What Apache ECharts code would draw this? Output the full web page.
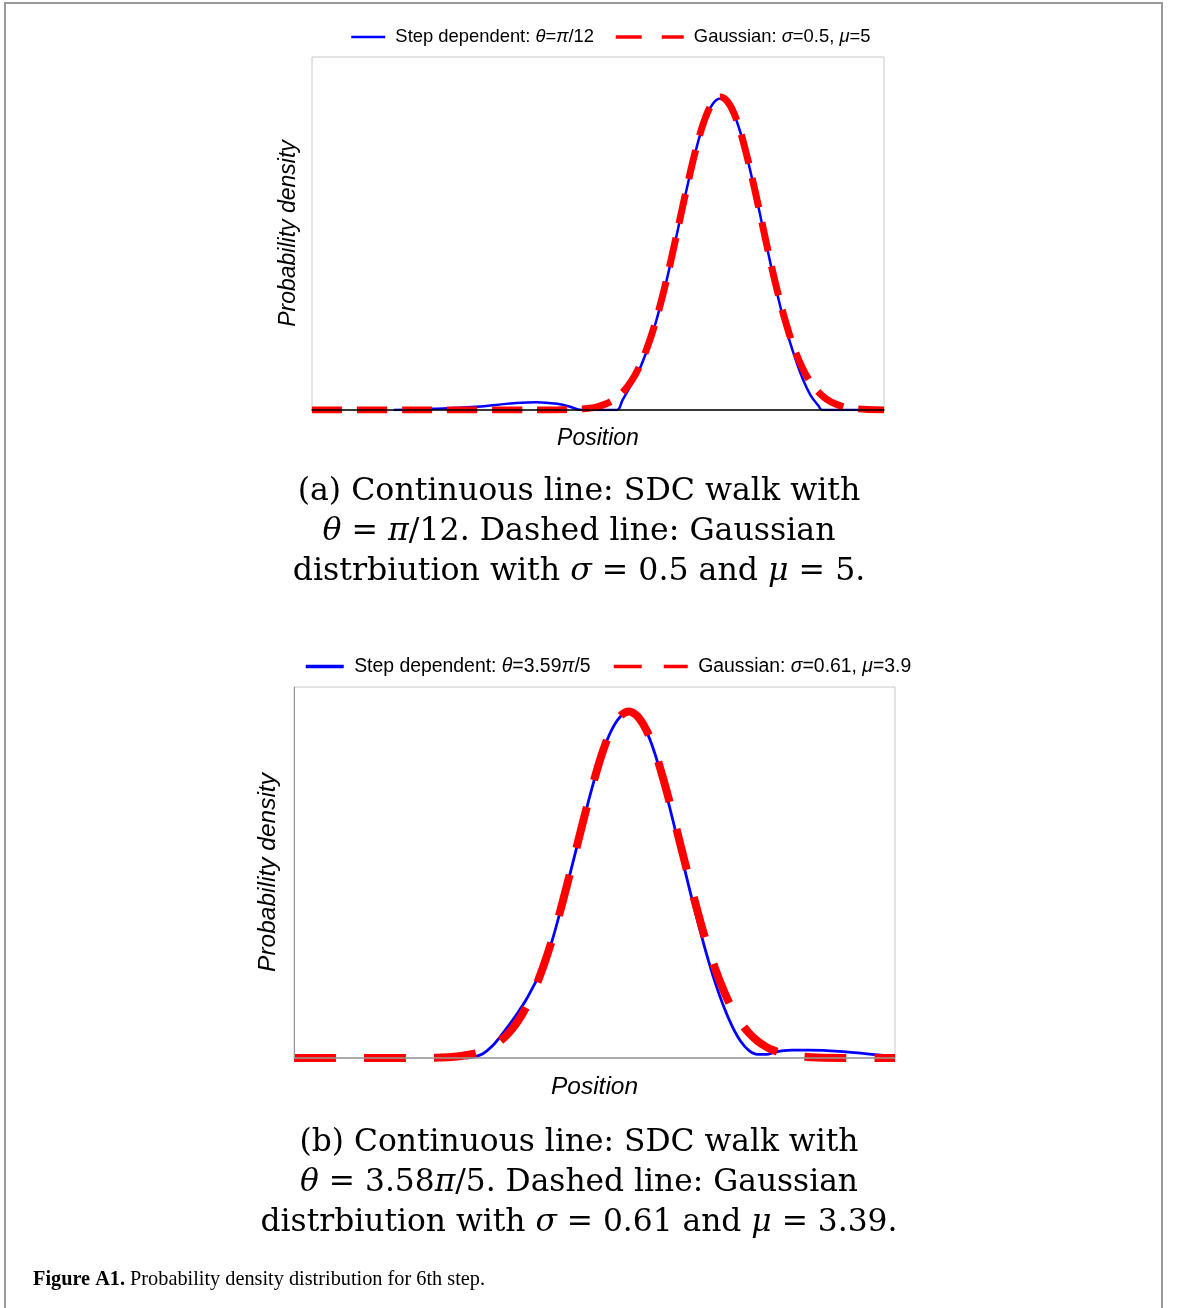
<!DOCTYPE html>
<html><head><meta charset="utf-8">
<script src="https://cdn.jsdelivr.net/npm/echarts@6/dist/echarts.min.js"></script>
<style>html,body{margin:0;padding:0;background:#fff}#c{width:1179px;height:1308px}</style>
</head><body><div id="c"></div><script>
// ---------- data ----------
// Panel (a)
const topBlueName = 'Step dependent: θ=π/12';
const topRedName  = 'Gaussian: σ=0.5, μ=5';
const topBlueX = [1.0,1.5,2.0,2.25,2.5,2.75,3.0,3.15,3.3,3.5,3.73,3.8,3.9,4.0,4.1,4.2,4.3,4.4,4.5,4.6,4.7,4.8,4.9,5.0,5.1,5.2,5.3,5.4,5.5,5.6,5.7,5.8,5.9,6.0,6.1,6.2,6.24,6.5,7.0];
const topBlueY = [0,0.003,0.008,0.013,0.018,0.020,0.016,0.009,0,0,0,0.025,0.062,0.100,0.153,0.218,0.296,0.386,0.482,0.577,0.664,0.735,0.779,0.794,0.779,0.735,0.664,0.577,0.482,0.384,0.291,0.208,0.140,0.082,0.038,0.010,0,0,0];
const topRedX = [0,1,2,2.5,3.0,3.2,3.4,3.5,3.6,3.7,3.8,3.9,4.0,4.1,4.2,4.3,4.4,4.5,4.6,4.7,4.8,4.9,5.0,5.1,5.2,5.3,5.4,5.5,5.6,5.7,5.8,5.9,6.0,6.1,6.2,6.3,6.4,6.5,6.6,6.8,7.0];
const topRedY = [0,0,0,0,0.0003,0.0012,0.0048,0.0089,0.0158,0.0271,0.0448,0.0709,0.108,0.158,0.222,0.299,0.388,0.484,0.579,0.666,0.737,0.782,0.798,0.782,0.737,0.666,0.579,0.484,0.388,0.299,0.222,0.158,0.108,0.0709,0.0448,0.0271,0.0158,0.0089,0.0048,0.0012,0.0003];
// Panel (b)
const botBlueName = 'Step dependent: θ=3.59π/5';
const botRedName  = 'Gaussian: σ=0.61, μ=3.9';
const botBlueX = [2.0,2.1,2.2,2.3,2.4,2.5,2.6,2.7,2.8,2.9,3.0,3.1,3.2,3.3,3.4,3.5,3.6,3.7,3.8,3.9,4.0,4.1,4.2,4.3,4.4,4.5,4.6,4.7,4.8,4.9,5.0,5.1,5.2,5.3,5.4,5.5,5.6,5.7,5.8,6.0,6.2,6.4,6.6,6.8,7.0];
const botBlueY = [0,0.002,0.008,0.021,0.040,0.061,0.084,0.109,0.139,0.170,0.218,0.276,0.338,0.402,0.466,0.526,0.579,0.619,0.644,0.653,0.644,0.618,0.576,0.520,0.457,0.390,0.323,0.259,0.199,0.145,0.099,0.061,0.032,0.014,0.007,0.007,0.011,0.014,0.015,0.015,0.014,0.012,0.009,0.006,0.003];
const botRedX = [0,1.0,1.4,1.7,1.9,2.0,2.1,2.2,2.3,2.4,2.5,2.6,2.7,2.8,2.9,3.0,3.1,3.2,3.3,3.4,3.5,3.6,3.7,3.8,3.9,4.0,4.1,4.2,4.3,4.4,4.5,4.6,4.7,4.8,4.9,5.0,5.1,5.2,5.3,5.4,5.5,5.6,5.7,5.8,5.9,6.1,6.4,7.0];
const botRedY = [0,0,0.0002,0.001,0.003,0.0051,0.0084,0.0135,0.021,0.0318,0.047,0.0675,0.0944,0.129,0.171,0.220,0.277,0.339,0.403,0.467,0.527,0.580,0.620,0.645,0.654,0.645,0.620,0.580,0.527,0.467,0.403,0.339,0.277,0.220,0.171,0.129,0.0944,0.0675,0.047,0.0318,0.021,0.0135,0.0084,0.0051,0.003,0.001,0.0002,0];

const xTitle = 'Position';
const yTitle = 'Probability density';
const captionA = ['(a) Continuous line: SDC walk with', '{m|θ} = {m|π}/12. Dashed line: Gaussian', 'distrbiution with {m|σ} = 0.5 and {m|μ} = 5.'];
const captionB = ['(b) Continuous line: SDC walk with', '{m|θ} = 3.58{m|π}/5. Dashed line: Gaussian', 'distrbiution with {m|σ} = 0.61 and {m|μ} = 3.39.'];
const figCaptionBold = 'Figure A1.';
const figCaptionText = ' Probability density distribution for 6th step.';

// ---------- chart ----------
const pairs = (xs, ys) => xs.map((x, i) => [x, ys[i]]);
const greek = s => ' ' + s.replace(/([θπσμ])/g, '{g|$1}');
const SANS = 'Liberation Sans';
const SERIF = 'DejaVu Serif';

function legendItem(name, left, top, w, fs, lineStyle) {
  return {
    data: [name], left: left, top: top, padding: 0, itemWidth: w, itemHeight: 20,
    formatter: greek, lineStyle: lineStyle,
    itemStyle: { color: 'rgba(0,0,0,0)', borderWidth: 0, opacity: 0 },
    textStyle: { fontSize: fs, fontFamily: SANS, color: '#000',
      rich: { g: { fontSize: fs, fontFamily: SANS, fontStyle: 'italic', color: '#000' } } }
  };
}
function xAx(gi, lineColor, lw, fs, gap) {
  return { gridIndex: gi, type: 'value', min: 0, max: 7, z: 10,
    axisLabel: { show: false }, axisTick: { show: false }, splitLine: { show: false },
    axisLine: { show: true, lineStyle: { color: lineColor, width: lw } },
    name: xTitle, nameLocation: 'middle', nameGap: gap,
    nameTextStyle: { fontSize: fs, fontStyle: 'italic', fontFamily: SANS, color: '#000' } };
}
function yAx(gi, max, showLine, fs, gap) {
  return { gridIndex: gi, type: 'value', min: 0, max: max, z: 10,
    axisLabel: { show: false }, axisTick: { show: false }, splitLine: { show: false },
    axisLine: { show: showLine, lineStyle: { color: '#999', width: 1 } },
    name: yTitle, nameLocation: 'middle', nameGap: gap,
    nameTextStyle: { fontSize: fs, fontStyle: 'italic', fontFamily: SANS, color: '#000' } };
}
function capLines(lines, ys, fs) {
  return lines.map((t, i) => ({ type: 'text', x: 579, y: ys[i], silent: true,
    style: { text: t, fill: '#000', fontSize: fs, fontFamily: SERIF, align: 'center', verticalAlign: 'middle',
      rich: { m: { fontSize: fs, fontFamily: SERIF, fontStyle: 'italic', fill: '#000' } } } }));
}

const option = {
  animation: false,
  backgroundColor: '#fff',
  grid: [
    { left: 312, top: 57, width: 572, height: 353, show: true, borderColor: '#c8c8c8', borderWidth: 1 },
    { left: 294, top: 687, width: 601, height: 371, show: true, borderColor: '#c8c8c8', borderWidth: 1 }
  ],
  xAxis: [ xAx(0, '#000', 1.5, 23, 17), xAx(1, '#999', 1.5, 24.5, 17) ],
  yAxis: [ yAx(0, 0.9, false, 23, 12), yAx(1, 0.7, true, 24.5, 13) ],
  legend: [
    legendItem(topBlueName, 350, 28, 34, 18.4, { width: 2.5, color: '#0000ff' }),
    legendItem(topRedName, 614, 28, 68, 18.4, { width: 3.5, color: '#ff0000', type: [26, 20] }),
    legendItem(botBlueName, 304, 657, 38, 19.4, { width: 3.5, color: '#0000ff' }),
    legendItem(botRedName, 612, 657, 74, 19.4, { width: 3.5, color: '#ff0000', type: [28, 22] })
  ],
  series: [
    { name: topBlueName, type: 'line', xAxisIndex: 0, yAxisIndex: 0, data: pairs(topBlueX, topBlueY),
      smooth: 0.4, symbol: 'none', clip: true, z: 3, lineStyle: { color: '#0000ff', width: 2.5 }, itemStyle: { color: '#0000ff' } },
    { name: topRedName, type: 'line', xAxisIndex: 0, yAxisIndex: 0, data: pairs(topRedX, topRedY),
      smooth: 0.4, symbol: 'none', clip: true, z: 4, lineStyle: { color: '#ff0000', width: 7, type: [30, 15] }, itemStyle: { color: '#ff0000' } },
    { name: botBlueName, type: 'line', xAxisIndex: 1, yAxisIndex: 1, data: pairs(botBlueX, botBlueY),
      smooth: 0.4, symbol: 'none', clip: false, z: 3, lineStyle: { color: '#0000ff', width: 2.8 }, itemStyle: { color: '#0000ff' } },
    { name: botRedName, type: 'line', xAxisIndex: 1, yAxisIndex: 1, data: pairs(botRedX, botRedY),
      smooth: 0.4, symbol: 'none', clip: false, z: 4, lineStyle: { color: '#ff0000', width: 8, type: [42, 28] }, itemStyle: { color: '#ff0000' } }
  ],
  graphic: [
    { type: 'polyline', silent: true, shape: { points: [[5, 1308], [5, 3], [1162, 3], [1162, 1308]] },
      style: { stroke: '#999', lineWidth: 2, fill: null } },
    ...capLines(captionA, [492, 532, 572], 31.6),
    ...capLines(captionB, [1143, 1183, 1223], 31.3),
    { type: 'text', x: 33, y: 1280, silent: true,
      style: { text: '{b|' + figCaptionBold + '}{r|' + figCaptionText + '}', verticalAlign: 'middle', align: 'left',
        rich: { b: { fontSize: 20.3, fontFamily: 'Liberation Serif', fontWeight: 'bold', fill: '#000' },
                r: { fontSize: 20.3, fontFamily: 'Liberation Serif', fill: '#000' } } } }
  ]
};
const chart = echarts.init(document.getElementById('c'));
chart.setOption(option);
</script></body></html>
